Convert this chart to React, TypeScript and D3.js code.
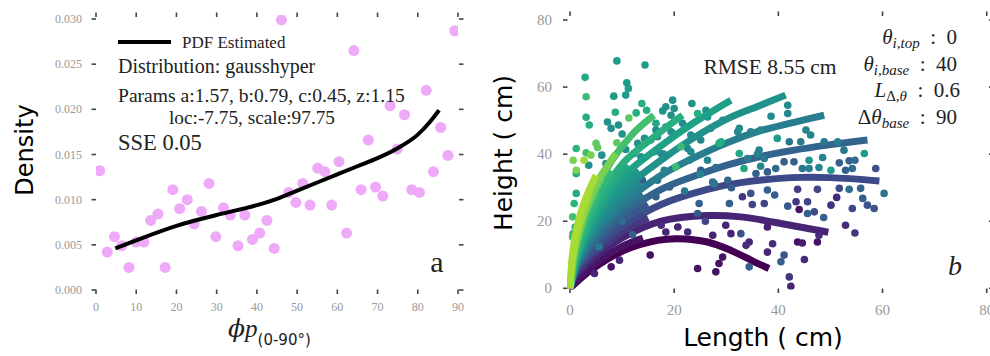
import { useEffect, useRef } from "react";
import * as d3 from "d3";

// panel a: density of phi_p
const phiValues = [0.9, 2.8, 4.6, 6.4, 8.2, 10.0, 11.9, 13.6, 15.4, 17.2, 19.1, 20.8, 22.7, 24.4, 26.2, 28.1, 29.8, 31.7, 33.4, 35.3, 37.0, 38.9, 40.7, 42.5, 44.3, 46.1, 47.9, 49.7, 51.4, 53.2, 55.1, 56.9, 58.6, 60.4, 62.3, 64.1, 65.9, 67.7, 69.5, 71.3, 73.1, 74.9, 76.7, 78.5, 80.4, 82.1, 83.9, 85.7, 87.5, 89.2];
const densityValues = [0.0132, 0.0042, 0.0059, 0.0049, 0.0025, 0.0053, 0.0053, 0.0077, 0.0084, 0.0025, 0.0111, 0.009, 0.01, 0.0073, 0.0087, 0.0118, 0.0059, 0.0091, 0.0083, 0.0049, 0.0083, 0.0056, 0.0063, 0.0077, 0.0046, 0.0299, 0.0108, 0.0097, 0.0118, 0.0094, 0.0135, 0.0131, 0.0094, 0.0142, 0.0063, 0.0265, 0.0111, 0.0166, 0.0114, 0.0104, 0.0204, 0.0156, 0.0194, 0.0111, 0.0108, 0.0221, 0.0131, 0.018, 0.0149, 0.0287];
const pdfPhi = [4.8, 10, 20, 30, 40, 45, 50, 55, 60, 65, 70, 75, 80, 83, 85.3];
const pdfDensity = [0.0046, 0.0055, 0.0071, 0.0083, 0.0094, 0.0101, 0.011, 0.0119, 0.0128, 0.0137, 0.0146, 0.0157, 0.0172, 0.0186, 0.0199];
const phiTicks = [0, 10, 20, 30, 40, 50, 60, 70, 80, 90];
const densityTicks = [0, 0.005, 0.01, 0.015, 0.02, 0.025, 0.03];

// panel b: shoot length vs height, level = colour index of the shoot group
const fitLevels = [0, 0.05, 0.1, 0.16, 0.22, 0.27, 0.32, 0.37, 0.42, 0.46, 0.5, 0.535, 0.57, 0.6, 0.63, 0.665, 0.7, 0.75, 0.8, 0.84, 0.87];
const fitCurves = [
  [[0, 0], [4, 5.4], [10.4, 11.3], [16.8, 14.3], [20.7, 14.8], [26.4, 13.8], [30.9, 11.3], [35.4, 7.9], [38.2, 5.9]],
  [[0, 0], [1, 2], [5, 7.5], [10, 12.5], [14, 15]],
  [[0, 0], [1, 3.5], [5, 9.5], [10, 15], [17.5, 20], [26.4, 21.7], [32.8, 21.3], [39.2, 19.7], [49.6, 16.7]],
  [[0, 0], [1, 4.2], [5, 10.8], [10, 16.8], [15, 21]],
  [[0, 0], [1, 5], [5, 12], [10, 18.5], [17.5, 25], [26.4, 29.5], [32.8, 31.5], [42.4, 33], [50, 33], [59.4, 32]],
  [[0, 0], [1.2, 6], [5, 13.3], [10, 20.2], [15, 25]],
  [[0, 0], [1.5, 7], [5, 14.5], [10, 22], [17.5, 29.5], [23.9, 33.5], [30.3, 36.8], [36.6, 39.3], [43, 41.2], [49.4, 42.7], [57.1, 44.2]],
  [[0, 0], [1.5, 7.5], [5, 15.8], [10, 23.5], [14, 28]],
  [[0, 0], [1.5, 8], [5, 17], [10, 25], [17.5, 33.7], [23.9, 39], [30.3, 43.5], [36.6, 47], [43, 49.5], [48.8, 51.6]],
  [[0, 0], [1.5, 8.5], [5, 18.3], [10, 27], [13.5, 31.5]],
  [[0, 0], [1.5, 9], [5, 19.5], [10, 29], [17.5, 38.2], [23.9, 45], [30.3, 50.6], [36.6, 54.6], [41.4, 57.6]],
  [[0, 0], [1.5, 9.5], [5, 20.8], [10, 31], [13, 35.5]],
  [[0, 0], [1.5, 10], [5, 22], [10, 33], [17.5, 42.5], [23.9, 49.5], [30.9, 56.1]],
  [[0, 0], [1.5, 10.5], [5, 23.5], [9, 33], [11, 37]],
  [[0, 0], [1.5, 11], [5, 25], [10, 37], [16, 45], [21.6, 51.6]],
  [[0, 0], [1.2, 11], [4.5, 25.5], [8, 35]],
  [[0, 0], [1, 11], [4, 26], [8, 38], [12, 46], [16.1, 51.6]],
  [[0, 0], [0.9, 10.5], [3.2, 23.5], [6, 33]],
  [[0, 0], [0.7, 10], [2.5, 21], [5, 31], [8.8, 40.2]],
  [[0, 0], [0.55, 9.5], [1.9, 19.5], [3.8, 28.5]],
  [[0, 0], [0.4, 9], [1.3, 18], [2.8, 26], [5, 33.7]],
];
const shoots = [
  [9.0, 67.8, 0.55], [14.4, 66.6, 0.55], [2.9, 62.9, 0.6], [10.9, 61.3, 0.55], [11.2, 59.6, 0.55], [10.7, 57.6, 0.55], [3.1, 57.1, 0.68], [8.4, 57.3, 0.55],
  [3.7, 48.7, 0.62], [3.1, 51, 0.62], [7.2, 49.6, 0.5], [8.7, 52.5, 0.62], [11.3, 50.8, 0.75], [12.7, 52.3, 0.62], [9.3, 48.7, 0.5], [7.9, 47.7, 0.5],
  [13.8, 55.1, 0.62], [14.7, 53.1, 0.62], [17.8, 52.9, 0.5], [19.7, 56.1, 0.5], [10, 46, 0.5], [9, 43.4, 0.75], [1.2, 41.7, 0.65], [5, 43.2, 0.75],
  [5.3, 42, 0.75], [4, 39.7, 0.8], [3.1, 40.4, 0.7], [6.1, 39.7, 0.5], [0.6, 38.2, 0.8], [1.2, 35.2, 0.8], [2.7, 38.2, 0.85], [3.6, 36.7, 0.5],
  [6.9, 37.2, 0.5], [10.7, 41.4, 0.5], [12.3, 40.2, 0.48], [14.3, 44.7, 0.5], [15.5, 44.2, 0.48], [13, 43.2, 0.5], [18.4, 54.1, 0.5], [16.5, 47.2, 0.48],
  [18.4, 48.1, 0.48], [19.4, 46.7, 0.48], [0.8, 25.3, 0.65], [0.5, 21.3, 0.7], [1, 18.3, 0.62], [0.6, 16.3, 0.62], [1.2, 28.3, 0.62], [7.9, 6.4, 0.05],
  [15.4, 9.9, 0.05], [4.7, 4.4, 0.1], [5.6, 12.3, 0.4], [18.4, 16.8, 0.1], [17.5, 18.8, 0.12], [14.6, 23.3, 0.25], [16.5, 27.3, 0.3], [19.1, 30.2, 0.3],
  [12, 35.2, 0.45], [13.9, 32.2, 0.3], [6, 28, 0.45], [8, 24, 0.4], [10, 20, 0.35], [12, 16, 0.3], [3, 10, 0.3], [22, 29, 0.4], [25, 34, 0.45],
  [18, 40, 0.5], [28, 36, 0.35], [31, 30, 0.3], [35, 25, 0.2], [26, 20, 0.2], [36, 40, 0.45],
  [23.4, 55.1, 0.5], [20, 53.6, 0.5], [24.5, 52.1, 0.62], [26.1, 53.1, 0.5], [27, 47.7, 0.48], [29.3, 50.1, 0.48], [32.5, 47.7, 0.48], [34.7, 46.7, 0.45],
  [36.6, 47.2, 0.45], [28.6, 43.2, 0.62], [21.3, 42.2, 0.68], [23.2, 40.7, 0.48], [20.3, 36.2, 0.68], [26.4, 38.2, 0.45], [32.5, 40.2, 0.6], [33.4, 35.7, 0.6],
  [36.6, 36.4, 0.45], [35.7, 34.2, 0.3], [37.9, 34.7, 0.3], [27.7, 31.2, 0.4], [30.6, 25.3, 0.3], [33.1, 27.3, 0.15], [34.7, 28.3, 0.25], [24.8, 25.3, 0.3],
  [24.5, 22.3, 0.28], [20.7, 18.3, 0.1], [29.9, 18.8, 0.1], [32.8, 16.3, 0.25], [22.6, 16.8, 0.12], [30.9, 16.3, 0.1], [27.4, 15.8, 0.1], [34.4, 13.8, 0.1],
  [33.8, 12.8, 0.12], [37.9, 18.3, 0.08], [29.3, 9.3, 0.05], [28.6, 7.4, 0.05], [24.5, 5.9, 0.05], [28, 4.9, 0.05], [34.4, 6.4, 0.3],
  [41.8, 54.6, 0.48], [41.8, 52.1, 0.45], [38.6, 51.3, 0.48], [45.3, 47.2, 0.45], [46.2, 45.7, 0.45], [39.8, 44.7, 0.55], [42.1, 43.7, 0.38], [44.3, 43.7, 0.4],
  [48.8, 43.7, 0.4], [51.4, 43.7, 0.42], [52.6, 41.2, 0.4], [56.5, 40.2, 0.55], [48.5, 39, 0.45], [45.9, 38.2, 0.52], [44.6, 35.7, 0.4], [45.9, 35.7, 0.42],
  [47.8, 36, 0.45], [50.1, 35.2, 0.55], [51.7, 37.4, 0.3], [53.6, 38, 0.3], [54.7, 38.2, 0.35], [54.2, 35.7, 0.35], [52.9, 35.2, 0.3], [41.1, 37.7, 0.3],
  [43, 37.7, 0.3], [39.5, 35.7, 0.35], [58.7, 35.7, 0.25], [37.9, 29.3, 0.3], [39.3, 27.8, 0.3], [43.7, 29.5, 0.18], [47.5, 29.5, 0.22], [51.7, 29.8, 0.22],
  [53.6, 29.5, 0.35], [55.8, 29.8, 0.3], [60.3, 28.3, 0.38], [56.2, 26.8, 0.3], [57.1, 24.8, 0.25], [58.4, 23.8, 0.25], [41.8, 24.5, 0.28], [43.4, 25.8, 0.15],
  [45.6, 25.8, 0.2], [44, 23.5, 0.05], [45.6, 22.3, 0.3], [46.9, 22.8, 0.22], [48.7, 21.1, 0.3], [50.1, 24.8, 0.15], [51.2, 27.1, 0.12], [54.2, 23.8, 0.2],
  [52.9, 18.8, 0.12], [54.7, 16.5, 0.15], [38.9, 13.3, 0.12], [37.9, 10.8, 0.1], [41.1, 9.9, 0.25], [40.5, 7.9, 0.3], [43.7, 13.8, 0.05], [44.6, 13.5, 0.08],
  [47.5, 13.8, 0.05], [47.8, 15.8, 0.12], [45, 8.6, 0.12], [42.1, 3.4, 0.15], [42.4, 0.6, 0.1],
  [19.4, 51.6, 0.5], [16.5, 49.2, 0.6], [21.6, 49.2, 0.48], [26.4, 51.1, 0.5], [19.7, 46.2, 0.5], [23.2, 45.7, 0.48], [25.1, 44.2, 0.45], [29, 43.7, 0.62],
  [32.2, 46.7, 0.45], [22.6, 41.7, 0.45], [16.2, 40.7, 0.5], [17.5, 40.2, 0.48], [22.9, 38.2, 0.45], [34.1, 38.7, 0.42], [36.3, 41.2, 0.45], [37.3, 38.7, 0.4],
  [25.1, 35.2, 0.3], [27.4, 31.7, 0.35], [30.3, 32.2, 0.32], [37.3, 25.3, 0.2], [16.8, 32.2, 0.4], [18.1, 35.2, 0.45], [13.6, 39.2, 0.5], [16.8, 45.2, 0.5],
  [1.2, 34.2, 0.62], [0.5, 15.3, 0.7], [9.5, 8.4, 0.1],
];
const cmTicks = [0, 20, 40, 60, 80];

const SERIF = "'Liberation Serif', serif";
const SANS = "'DejaVu Sans', sans-serif";
const COLON = "\u2002:\u2002";

type Part = { t: string; it?: boolean; size?: number; dy?: number; family?: string };

function addText(g: any, x: number, y: number, size: number, parts: Part[], anchor = "start", family = SERIF) {
  const t = g
    .append("text")
    .attr("x", x)
    .attr("y", y)
    .attr("font-family", family)
    .attr("font-size", size)
    .attr("fill", "#222")
    .attr("text-anchor", anchor);
  parts.forEach((p) => {
    const s = t.append("tspan").text(p.t);
    if (p.it) s.attr("font-style", "italic");
    if (p.size) s.attr("font-size", p.size);
    if (p.dy) s.attr("dy", p.dy);
    if (p.family) s.attr("font-family", p.family);
  });
  return t;
}

function frameTicks(g: any, L: number, R: number, T: number, B: number, xs: number[], ys: number[]) {
  const tk = g.append("g").attr("stroke", "#444").attr("stroke-width", 1.6);
  xs.forEach((x) => {
    tk.append("line").attr("x1", x).attr("x2", x).attr("y1", B).attr("y2", B + 4.5);
    tk.append("line").attr("x1", x).attr("x2", x).attr("y1", T).attr("y2", T - 4.5);
  });
  ys.forEach((y) => {
    tk.append("line").attr("x1", L - 4.5).attr("x2", L).attr("y1", y).attr("y2", y);
    tk.append("line").attr("x1", R).attr("x2", R + 4.5).attr("y1", y).attr("y2", y);
  });
}

export default function App() {
  const svgRef = useRef<SVGSVGElement>(null);

  useEffect(() => {
    if (!svgRef.current) return;
    const svg = d3.select(svgRef.current);
    svg.selectAll("*").remove();

    // ---------- panel a ----------
    const a = svg.append("g");
    const ax = d3.scaleLinear().domain([0, 90]).range([96, 458]);
    const ay = d3.scaleLinear().domain([0, 0.03]).range([290, 19]);
    a.append("clipPath").attr("id", "clipA").append("rect").attr("x", 96).attr("y", 15).attr("width", 362).attr("height", 276);

    frameTicks(a, 96, 459, 17, 289.5, phiTicks.map((d) => ax(d)), densityTicks.map((d) => ay(d)));

    a.selectAll("text.yt")
      .data(densityTicks)
      .enter()
      .append("text")
      .attr("x", 82)
      .attr("y", (d) => ay(d) + 4)
      .attr("text-anchor", "end")
      .attr("font-family", SERIF)
      .attr("font-size", 12)
      .attr("fill", "#999")
      .text((d) => d3.format(".3f")(d));
    a.selectAll("text.xt")
      .data(phiTicks)
      .enter()
      .append("text")
      .attr("x", (d) => ax(d))
      .attr("y", 311)
      .attr("text-anchor", "middle")
      .attr("font-family", SERIF)
      .attr("font-size", 12)
      .attr("fill", "#999")
      .text((d) => d);

    const plotA = a.append("g").attr("clip-path", "url(#clipA)");
    plotA
      .selectAll("circle")
      .data(phiValues.map((p, i) => [p, densityValues[i]]))
      .enter()
      .append("circle")
      .attr("cx", (d) => ax(d[0]))
      .attr("cy", (d) => ay(d[1]))
      .attr("r", 5.5)
      .attr("fill", "#eeaaf8");

    const pdfLine = d3
      .line<number[]>()
      .x((d) => ax(d[0]))
      .y((d) => ay(d[1]))
      .curve(d3.curveMonotoneX);
    plotA
      .append("path")
      .datum(pdfPhi.map((p, i) => [p, pdfDensity[i]]))
      .attr("d", pdfLine)
      .attr("fill", "none")
      .attr("stroke", "#000")
      .attr("stroke-width", 4);

    a.append("line").attr("x1", 118).attr("x2", 171).attr("y1", 42).attr("y2", 42).attr("stroke", "#000").attr("stroke-width", 4);
    addText(a, 182, 47.5, 17, [{ t: "PDF Estimated" }]);
    addText(a, 118, 72.5, 20, [{ t: "Distribution: gausshyper" }]);
    addText(a, 118, 101.5, 19.6, [{ t: "Params a:1.57, b:0.79, c:0.45, z:1.15" }]);
    addText(a, 252, 124, 19.3, [{ t: "loc:-7.75, scale:97.75" }], "middle");
    addText(a, 118, 150, 22.5, [{ t: "SSE 0.05" }]);
    addText(a, 437, 272, 30, [{ t: "a" }], "middle");

    a.append("text")
      .attr("transform", "translate(33,150) rotate(-90)")
      .attr("text-anchor", "middle")
      .attr("font-family", SANS)
      .attr("font-size", 24)
      .attr("fill", "#000")
      .text("Density");
    addText(a, 228, 337, 25, [
      { t: "\u03D5", it: true, family: "'DejaVu Serif', serif" },
      { t: "p", it: true },
      { t: "(0-90°)", size: 15, dy: 8, family: SANS },
    ]);

    // ---------- panel b ----------
    const b = svg.append("g");
    const bx = d3.scaleLinear().domain([0, 80]).range([570, 986.7]);
    const by = d3.scaleLinear().domain([0, 80]).range([288.3, 20]);
    b.append("clipPath").attr("id", "clipB").append("rect").attr("x", 567.5).attr("y", 15).attr("width", 422).attr("height", 274.5);

    frameTicks(b, 567.5, 989, 16, 288.5, cmTicks.map((d) => bx(d)), cmTicks.map((d) => by(d)));

    b.selectAll("text.yt")
      .data(cmTicks)
      .enter()
      .append("text")
      .attr("x", 552)
      .attr("y", (d) => by(d) + 5)
      .attr("text-anchor", "end")
      .attr("font-family", SERIF)
      .attr("font-size", 15)
      .attr("fill", "#999")
      .text((d) => d);
    b.selectAll("text.xt")
      .data(cmTicks)
      .enter()
      .append("text")
      .attr("x", (d) => bx(d))
      .attr("y", 315)
      .attr("text-anchor", "middle")
      .attr("font-family", SERIF)
      .attr("font-size", 15)
      .attr("fill", "#999")
      .text((d) => d);

    const color = (t: number) => d3.interpolateViridis(t);
    const plotB = b.append("g").attr("clip-path", "url(#clipB)");
    const fitLine = d3
      .line<number[]>()
      .x((d) => bx(d[0]))
      .y((d) => by(d[1]))
      .curve(d3.curveCatmullRom);

    // each group: its fitted curve, then its measured points, drawn from dark to light
    const items: { lvl: number; kind: number; d: any }[] = [];
    fitCurves.forEach((c, i) => items.push({ lvl: fitLevels[i], kind: 0, d: c }));
    shoots.forEach((p) => items.push({ lvl: p[2], kind: 1, d: p }));
    items.sort((p, q) => p.lvl - q.lvl || p.kind - q.kind);
    items.forEach((it) => {
      if (it.kind === 0) {
        plotB
          .append("path")
          .datum(it.d)
          .attr("d", fitLine)
          .attr("fill", "none")
          .attr("stroke", color(it.lvl))
          .attr("stroke-width", 7);
      } else {
        plotB
          .append("circle")
          .attr("cx", bx(it.d[0]))
          .attr("cy", by(it.d[1]))
          .attr("r", 3.8)
          .attr("fill", color(it.lvl));
      }
    });

    addText(b, 770, 74, 21.5, [{ t: "RMSE 8.55 cm" }], "middle");
    addText(b, 957, 44, 21, [{ t: "θ", it: true }, { t: "i,top", it: true, size: 15, dy: 4 }, { t: COLON + "0", dy: -4 }], "end");
    addText(b, 957, 70.5, 21, [{ t: "θ", it: true }, { t: "i,base", it: true, size: 15, dy: 4 }, { t: COLON + "40", dy: -4 }], "end");
    addText(b, 960, 97, 21, [{ t: "L", it: true }, { t: "Δ,", size: 15, dy: 4 }, { t: "θ", it: true, size: 15 }, { t: COLON + "0.6", dy: -4 }], "end");
    addText(b, 957, 124, 21, [{ t: "Δ" }, { t: "θ", it: true }, { t: "base", it: true, size: 15, dy: 4 }, { t: COLON + "90", dy: -4 }], "end");
    addText(b, 955, 275, 28, [{ t: "b", it: true }], "middle");

    b.append("text")
      .attr("transform", "translate(512,153) rotate(-90)")
      .attr("text-anchor", "middle")
      .attr("font-family", SANS)
      .attr("font-size", 25)
      .attr("fill", "#000")
      .text("Height ( cm)");
    b.append("text")
      .attr("x", 763)
      .attr("y", 346)
      .attr("text-anchor", "middle")
      .attr("font-family", SANS)
      .attr("font-size", 25)
      .attr("fill", "#000")
      .text("Length ( cm)");
  }, []);

  return (
    <svg
      ref={svgRef}
      width={990}
      height={356}
      style={{ position: "absolute", left: 0, top: 0, background: "#fff" }}
    />
  );
}
